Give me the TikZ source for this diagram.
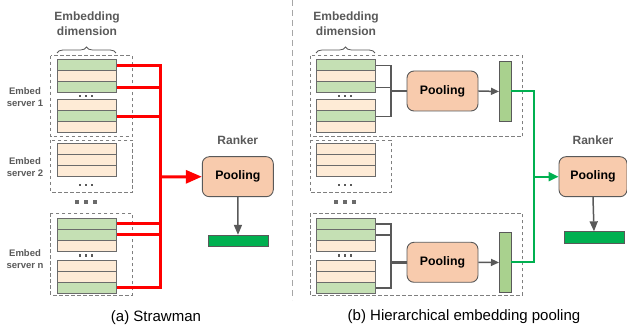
\documentclass[tikz,border=0pt]{standalone}
\usepackage{fontspec}
\setmainfont{Liberation Sans}
\usetikzlibrary{arrows.meta,positioning,decorations.pathreplacing}

\definecolor{rowgreen}{HTML}{C5E0B4}
\definecolor{rowcream}{HTML}{FEEBD6}
\definecolor{poolfill}{HTML}{F8CBAD}
\definecolor{edgegray}{HTML}{595959}
\definecolor{rowedge}{HTML}{6B6B6B}
\definecolor{dashgray}{HTML}{7F7F7F}
\definecolor{divgray}{HTML}{A6A6A6}
\definecolor{outgreen}{HTML}{00B050}
\definecolor{barfill}{HTML}{A9D18E}

\begin{document}
\begin{tikzpicture}[x=1pt,y=-1pt,
        embrow/.style={draw=rowedge,line width=1pt,minimum width=59pt,minimum height=11pt,inner sep=0pt,anchor=north west},
        serverbox/.style={draw=dashgray,line width=0.9pt,dash pattern=on 3.5pt off 2.5pt},
        poolbox/.style={draw=edgegray,line width=0.9pt,fill=poolfill,rounded corners=7pt,minimum width=71pt,minimum height=40pt,inner sep=0pt,font=\fontsize{12.3}{14}\selectfont\bfseries},
        graylabel/.style={text=edgegray,font=\fontsize{12}{15}\selectfont\bfseries,align=center,inner sep=1pt},
        serverlabel/.style={text=edgegray,font=\fontsize{9.5}{12}\selectfont\bfseries,align=center,inner sep=1pt},
        outbar/.style={draw=edgegray,fill=outgreen,line width=0.8pt,minimum width=60pt,minimum height=11.5pt,inner sep=0pt},
        tallbar/.style={draw=edgegray,fill=barfill,line width=0.9pt,minimum width=11.5pt,minimum height=60pt,inner sep=0pt},
        redwire/.style={draw=red,line width=3pt},
        greenwire/.style={draw=outgreen,line width=2pt},
        graywire/.style={draw=edgegray,line width=1.5pt},
        caption/.style={font=\fontsize{15}{18}\selectfont}]
        \useasboundingbox (0,0) rectangle (627,328);

        % Divider
        \draw[divgray,line width=1.2pt,dash pattern=on 6pt off 4pt] (292.7,0) -- (292.7,300);

        % Server boxes
        \draw[serverbox] (50.7,55.7) rectangle (132.3,136.7);
        \draw[serverbox] (50.7,140) rectangle (132.3,192.7);
        \draw[serverbox] (50.7,213.3) rectangle (132.3,295);
        \draw[serverbox] (310,55.7) rectangle (522.7,136.7);
        \draw[serverbox] (310,140) rectangle (391,192.7);
        \draw[serverbox] (310,213.3) rectangle (522.7,295);

        % Embedding rows, same in both panels
        \foreach \p/\dx in {a/0,b/259}{
            \begin{scope}[shift={(\dx,0)}]
                \foreach \y/\c [count=\i] in {59.5/rowgreen,70.5/rowcream,81.5/rowgreen,99.5/rowcream,110.5/rowgreen,121.5/rowcream}
                    \node[embrow,fill=\c] (\p1-\i) at (57,\y) {};
                \foreach \y [count=\i] in {143.5,154.5,165.5}
                    \node[embrow,fill=rowcream] (\p2-\i) at (57,\y) {};
                \foreach \y/\c [count=\i] in {218/rowgreen,229/rowgreen,240/rowcream,260/rowcream,271/rowcream,282/rowgreen}
                    \node[embrow,fill=\c] (\p n-\i) at (57,\y) {};
                % dots
                \foreach \y in {96,185,255.5}
                    \foreach \x in {80,86,92}
                        \fill[edgegray] (\x-1.3,\y-1.3) rectangle +(2.6,2.6);
                \foreach \x in {77.3,86.3,95.3}
                    \fill[edgegray!90] (\x-2,201.7-2) rectangle +(4,4);
                % Embedding dimension
                \node[graylabel] (dim\p) at (87,24) {Embedding\\dimension};
                \draw[edgegray,line width=0.8pt,decorate,decoration={brace,amplitude=6pt}] (57,53) -- (116,53);
            \end{scope}
        }

        % Server labels
        \node[serverlabel] (srv1) at (25,97) {Embed\\server 1};
        \node[serverlabel] (srv2) at (25,167.5) {Embed\\server 2};
        \node[serverlabel] (srvn) at (25,258.7) {Embed\\server n};

        % Strawman
        \node[poolbox] (poolA) at (237.8,176.7) {Pooling};
        \node[graylabel,above=10pt of poolA] (rankerA) {Ranker};
        \node[outbar] (outA) at (238,241) {};
        \coordinate (hubA) at (160,177);
        \foreach \r in {a1-1,a1-3,a1-5,an-1,an-2,an-6}
            \draw[redwire] (\r.east) -| (hubA);
        \draw[redwire,-{Triangle[length=16pt,width=13pt]}] (hubA) -- (poolA.west);
        \draw[graywire,-{Triangle[length=10pt,width=8pt]}] (poolA.south) -- (outA.north);

        % Hierarchical pooling
        \node[poolbox] (poolB1) at (442.5,91) {Pooling};
        \node[tallbar] (barB1) at (505.2,91.5) {};
        \node[poolbox] (poolB2) at (442.5,262.3) {Pooling};
        \node[tallbar] (barB2) at (505.2,262.5) {};
        \coordinate (hubB1) at (391,91);
        \coordinate (hubB2) at (391,262.3);
        \foreach \r in {b1-1,b1-3,b1-5}
            \draw[graywire] (\r.east) -| (hubB1);
        \foreach \r in {bn-1,bn-2,bn-6}
            \draw[graywire] (\r.east) -| (hubB2);
        \draw[graywire,line width=2.5pt] (hubB1) -- (poolB1.west);
        \draw[graywire,line width=2.5pt] (hubB2) -- (poolB2.west);
        \draw[graywire,-{Triangle[length=8pt,width=7pt]}] (poolB1.east) -- (barB1.west);
        \draw[graywire,-{Triangle[length=8pt,width=7pt]}] (poolB2.east) -- (barB2.west);

        \node[poolbox,minimum width=68pt] (poolB) at (593,176.7) {Pooling};
        \node[graylabel,above=10pt of poolB] (rankerB) {Ranker};
        \node[outbar] (outB) at (594,237.5) {};
        \coordinate (hubG) at (534.3,176.7);
        \draw[greenwire] (barB1.east) -| (hubG);
        \draw[greenwire] (barB2.east) -| (hubG);
        \draw[greenwire,-{Triangle[length=10pt,width=9pt]}] (hubG) -- (poolB.west);
        \draw[graywire,-{Triangle[length=10pt,width=8pt]}] (poolB.south) -- (outB.north);

        % Captions
        \node[caption] (capA) at (156,318) {(a) Strawman};
        \node[caption] (capB) at (464,317) {(b) Hierarchical embedding pooling};
    \end{tikzpicture}
\end{document}
